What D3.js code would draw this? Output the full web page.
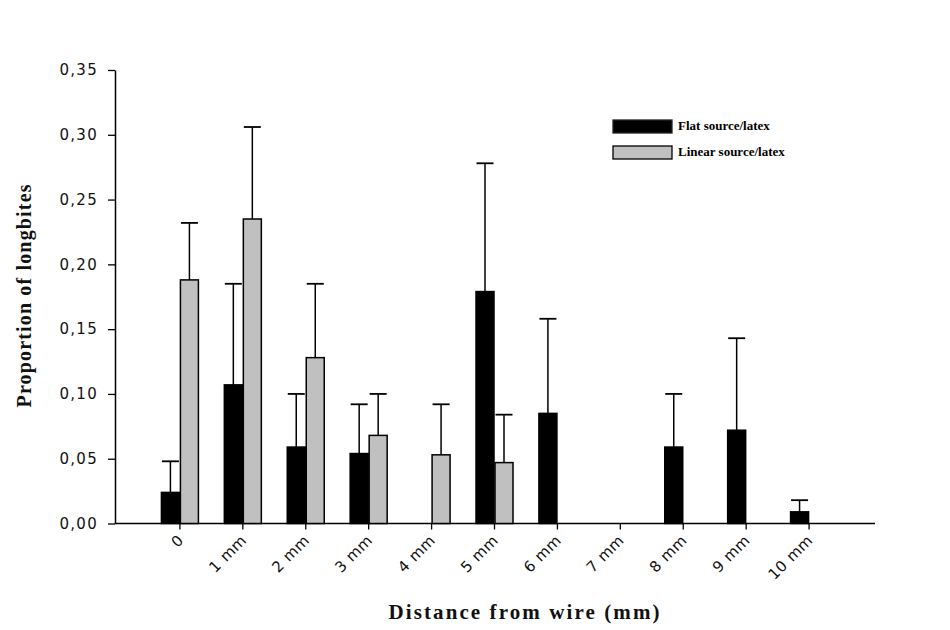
<!DOCTYPE html>
<html>
<head>
<meta charset="utf-8">
<script src="https://cdn.jsdelivr.net/npm/d3@7"></script>
<style>
  body { margin: 0; background: #fff; }
  svg { display: block; }
</style>
</head>
<body>
<svg id="chart" width="950" height="630"></svg>
<script>
const categories = ["0", "1 mm", "2 mm", "3 mm", "4 mm", "5 mm", "6 mm", "7 mm", "8 mm", "9 mm", "10 mm"];
const flatMeans  = [0.024, 0.107, 0.059, 0.054, null, 0.179, 0.085, null, 0.059, 0.072, 0.009];
const flatErr    = [0.024, 0.078, 0.041, 0.038, null, 0.099, 0.073, null, 0.041, 0.071, 0.009];
const linMeans   = [0.188, 0.235, 0.128, 0.068, 0.053, 0.047, null, null, null, null, null];
const linErr     = [0.044, 0.071, 0.057, 0.032, 0.039, 0.037, null, null, null, null, null];
const yTicks     = [0, 0.05, 0.10, 0.15, 0.20, 0.25, 0.30, 0.35];
const seriesNames = ["Flat source/latex", "Linear source/latex"];
const seriesColors = ["#000000", "#c0c0c0"];

const svg = d3.select("#chart");
const x = d3.scaleLinear().domain([-1, 11]).range([117, 872]);
const y = d3.scaleLinear().domain([0, 0.35]).range([523.5, 70]);
const barW = 18;

// Y axis
const yAxis = d3.axisLeft(y).tickValues(yTicks).tickSize(7).tickSizeOuter(0)
  .tickFormat(d => d3.format(".2f")(d).replace(".", ","));
const gy = svg.append("g").attr("transform", "translate(115,0)").call(yAxis);
gy.select(".domain").attr("stroke", "#000").attr("stroke-width", 1.5);
gy.selectAll(".tick line").attr("stroke", "#000").attr("stroke-width", 1.3);
gy.selectAll(".tick text").attr("x", -17)
  .style("font-family", "'DejaVu Sans', sans-serif").style("font-size", "15px")
  .style("letter-spacing", "1.3px").attr("fill", "#111");

// X axis
const gx = svg.append("g");
gx.append("line").attr("x1", 115).attr("x2", 875).attr("y1", y(0)).attr("y2", y(0))
  .attr("stroke", "#000").attr("stroke-width", 1.5);
categories.forEach((c, i) => {
  gx.append("line").attr("x1", x(i)).attr("x2", x(i)).attr("y1", y(0)).attr("y2", y(0) + 6)
    .attr("stroke", "#000").attr("stroke-width", 1.3);
  gx.append("text")
    .attr("transform", `translate(${x(i) + 1},${y(0) + 14}) rotate(-45)`)
    .attr("text-anchor", "end").attr("dy", "0.35em")
    .style("font-family", "'DejaVu Sans', sans-serif").style("font-size", "15px")
    .style("letter-spacing", "0.5px").attr("fill", "#111")
    .text(c);
});

// Error bars + bars
function drawSeries(means, errs, offset, color) {
  const g = svg.append("g");
  means.forEach((m, i) => {
    if (m == null) return;
    const cx = x(i) + offset + barW / 2;
    const top = y(m + errs[i]);
    g.append("line").attr("x1", cx).attr("x2", cx).attr("y1", y(m)).attr("y2", top)
      .attr("stroke", "#000").attr("stroke-width", 1.5);
    g.append("line").attr("x1", cx - 8.5).attr("x2", cx + 8.5).attr("y1", top).attr("y2", top)
      .attr("stroke", "#000").attr("stroke-width", 1.8);
    g.append("rect").attr("x", x(i) + offset).attr("y", y(m))
      .attr("width", barW).attr("height", y(0) - y(m))
      .attr("fill", color).attr("stroke", "#000").attr("stroke-width", 1.5);
  });
}
drawSeries(flatMeans, flatErr, -barW - 0.5, seriesColors[0]);
drawSeries(linMeans, linErr, 0.5, seriesColors[1]);

// Legend
const leg = svg.append("g");
seriesNames.forEach((n, i) => {
  const ly = 120 + i * 26;
  leg.append("rect").attr("x", 613).attr("y", ly).attr("width", 59).attr("height", 13)
    .attr("fill", seriesColors[i]).attr("stroke", i === 0 ? "#222" : "#000").attr("stroke-width", 1.3);
  leg.append("text").attr("x", 678).attr("y", ly + 10)
    .style("font-family", "'Liberation Serif', 'Times New Roman', serif")
    .style("font-size", "13px").style("font-weight", "bold").attr("fill", "#000")
    .text(n);
});

// Axis titles
svg.append("text").attr("x", 524).attr("y", 619).attr("text-anchor", "middle")
  .style("font-family", "'Liberation Serif', 'Times New Roman', serif")
  .style("font-size", "21px").style("font-weight", "bold").attr("fill", "#111")
  .attr("textLength", 271).attr("lengthAdjust", "spacing")
  .text("Distance from wire (mm)");
svg.append("text").attr("transform", "translate(31,296) rotate(-90)").attr("text-anchor", "middle")
  .style("font-family", "'Liberation Serif', 'Times New Roman', serif")
  .style("font-size", "20px").style("font-weight", "bold").attr("fill", "#111")
  .attr("textLength", 223).attr("lengthAdjust", "spacing")
  .text("Proportion of longbites");
</script>
</body>
</html>
